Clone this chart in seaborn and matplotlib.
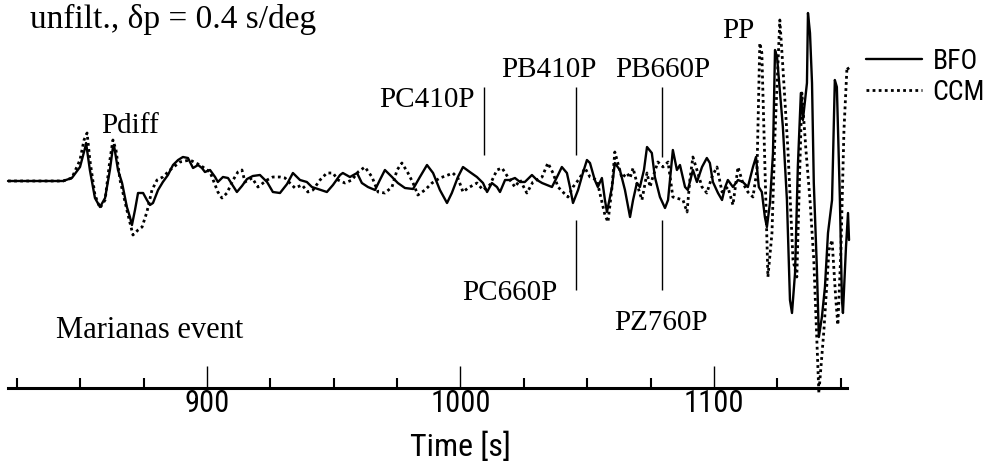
import matplotlib
matplotlib.use("Agg")
import matplotlib.pyplot as plt
import seaborn as sns
import pandas as pd
from matplotlib import font_manager
from matplotlib.ticker import FixedLocator, MultipleLocator

# ---------------- data (time in s, relative amplitude) ----------------
bfo_time = [821.5, 843.2, 846.7, 849.9, 851.9, 852.3, 853.8, 855.8, 857.8, 859.8,
            861.7, 862.9, 863.3, 864.9, 866.5, 868.4, 869.6, 870.4, 871.6, 872.8,
            874.8, 876.3, 877.5, 878.7, 880.7, 882.6, 884.6, 886.6, 888.6, 890.5,
            892.5, 894.5, 896.5, 898.0, 899.2, 901.2, 903.2, 904.3, 906.3, 908.3,
            910.3, 911.8, 913.8, 915.8, 918.1, 920.9, 923.7, 926.0, 928.8, 931.6,
            933.9, 936.7, 939.4, 941.4, 943.8, 947.3, 949.7, 952.5, 953.6, 956.4,
            959.2, 961.1, 963.5, 966.3, 968.2, 970.2, 973.0, 975.3, 978.1, 981.3,
            984.0, 986.8, 989.2, 991.9, 994.7, 996.6, 999.0, 1001.0, 1003.7, 1006.5,
            1008.9, 1010.5, 1012.4, 1014.4, 1015.6, 1017.6, 1019.5, 1021.5, 1023.5, 1025.4,
            1028.2, 1030.2, 1032.2, 1034.1, 1036.1, 1038.1, 1040.0, 1042.0, 1043.2, 1044.4,
            1046.4, 1048.3, 1049.9, 1051.1, 1053.0, 1054.2, 1055.8, 1057.0, 1057.8, 1059.8,
            1060.9, 1062.9, 1064.9, 1066.9, 1068.1, 1069.6, 1070.8, 1072.4, 1073.6, 1075.5,
            1076.7, 1078.7, 1080.7, 1081.9, 1083.8, 1085.4, 1086.6, 1088.6, 1089.7, 1091.7,
            1093.3, 1095.3, 1097.2, 1098.4, 1099.6, 1101.6, 1103.2, 1104.3, 1105.5, 1107.5,
            1109.5, 1111.4, 1113.4, 1115.4, 1116.6, 1117.7, 1118.9, 1120.1, 1120.9, 1122.1,
            1123.3, 1124.1, 1124.9, 1126.0, 1127.2, 1128.8, 1130.0, 1130.8, 1132.0, 1133.1,
            1134.3, 1135.1, 1136.7, 1137.1, 1137.9, 1138.7, 1139.4, 1140.6, 1141.4, 1142.6,
            1143.8, 1145.0, 1146.6, 1147.7, 1148.5, 1149.7, 1150.5, 1150.9, 1152.1, 1152.9,
            1153.3]
bfo_amp = [0, 0, 3, 14, 33, 38, 11, -17, -26, -17,
           11, 34, 36, 11, -2, -26, -36, -44, -29, -12,
           -12, -19, -24, -22, -9, -1, 6, 16, 21, 24,
           23, 13, 16, 13, 9, 11, 4, -1, 4, 3,
           -5, -11, -5, 2, 5, 6, -1, -11, -12, -3,
           8, 1, -1, -6, -8, -11, -4, 6, 8, 4,
           8, -2, -6, -9, 1, 11, 4, -2, -7, -8,
           4, 16, 8, -9, -22, -12, 4, 14, 9, 4,
           -2, -11, -2, -6, -11, 1, 1, 3, -1, -1,
           6, 1, -2, -4, -6, 4, 14, 8, -6, -22,
           -9, 8, 21, 18, 1, -6, 3, -19, -31, -6,
           18, 11, -9, -36, -19, -2, -6, 11, 34, 28,
           4, -16, -27, -19, 31, 11, 16, -6, -9, 11,
           -1, 14, 23, 18, -1, -12, -19, -7, 1, -6,
           1, -1, -6, 14, 24, -6, -11, -36, -46, -22,
           28, 131, 124, 91, 54, -19, -119, -132, -92, 14,
           88, 61, 98, 168, 148, 98, -2, -86, -156, -136,
           -106, -52, -19, 101, 94, -19, -119, -132, -66, -32,
           -59]

ccm_time = [821.5, 843.2, 846.7, 849.9, 851.5, 852.7, 853.8, 855.8, 857.8, 859.8,
            861.7, 862.9, 864.1, 865.7, 868.4, 870.8, 872.8, 874.4, 876.3, 878.3,
            880.3, 882.6, 885.4, 889.3, 893.3, 897.2, 901.2, 904.3, 905.9, 907.9,
            910.3, 912.2, 913.8, 915.0, 917.8, 920.1, 923.7, 926.0, 928.8, 930.8,
            932.7, 934.7, 937.5, 939.8, 941.8, 944.6, 947.3, 949.7, 951.7, 954.4,
            957.2, 959.6, 962.3, 965.1, 967.5, 970.2, 973.0, 975.0, 976.9, 979.3,
            981.3, 983.2, 986.0, 988.8, 991.9, 995.1, 997.0, 999.0, 1001.0, 1003.0,
            1006.5, 1008.9, 1011.6, 1014.4, 1016.4, 1018.7, 1021.5, 1023.5, 1026.2, 1028.6,
            1032.2, 1034.5, 1036.5, 1038.5, 1040.4, 1042.4, 1044.4, 1047.1, 1049.1, 1051.1,
            1053.8, 1055.0, 1057.0, 1058.2, 1059.8, 1060.9, 1062.1, 1063.7, 1065.7, 1066.9,
            1068.1, 1070.0, 1071.6, 1073.6, 1074.8, 1075.9, 1077.9, 1079.9, 1081.9, 1083.8,
            1087.8, 1089.4, 1090.5, 1091.7, 1093.3, 1095.3, 1097.2, 1099.2, 1101.2, 1103.2,
            1105.5, 1107.5, 1109.5, 1111.4, 1113.4, 1115.4, 1117.0, 1118.1, 1118.9, 1120.1,
            1121.3, 1122.9, 1124.1, 1126.0, 1127.2, 1129.2, 1131.2, 1132.7, 1134.7, 1136.3,
            1137.9, 1139.4, 1141.4, 1143.4, 1145.4, 1146.6, 1148.1, 1148.9, 1150.1, 1151.3,
            1152.5, 1153.3]
ccm_amp = [0, 0, 3, 21, 41, 48, 21, -14, -27, -19,
           21, 41, 31, 1, -29, -54, -49, -46, -31, -9,
           1, 4, 11, 19, 21, 16, 9, -11, -17, -12,
           1, 9, 11, -1, 3, -6, 1, 4, 4, 3,
           -2, -7, -4, -11, -9, 1, 8, 8, 1, -2,
           1, 9, 14, 4, -11, -12, -6, 11, 18, 8,
           -2, -14, -9, -2, 3, 6, 8, 3, -11, -7,
           -2, -9, -4, 11, 13, 4, -6, 1, -12, -1,
           4, 18, 8, -6, -11, -16, -6, 3, 13, 4,
           1, -12, -34, -41, -6, 29, 18, 3, 8, 3,
           13, -6, -19, 8, -6, 4, 19, 14, 19, -16,
           -19, -31, 1, 24, 11, -6, -12, 4, 14, -11,
           -6, -24, 14, -2, -11, -16, 11, 138, 128, 14,
           -96, -52, 48, 161, 114, 31, -79, -96, 88, 31,
           -19, -79, -212, -149, -69, -59, -119, -144, -69, 51,
           114, 111]

station_names = ["BFO", "CCM"]
axis_major = [900, 1000, 1100]

phase_labels = ["Pdiff", "PC410P", "PB410P", "PB660P", "PP", "PC660P", "PZ760P"]
phase_label_time = [869.6, 986.8, 1034.9, 1079.9, 1109.5, 1019.5, 1079.1]
phase_label_amp = [48, 74, 104, 104, 143, -119, -149]

marker_time = [1009.3, 1045.6, 1079.5, 1045.6, 1079.5]
marker_top = [94, 94, 94, -39, -39]
marker_bottom = [26, 26, 24, -109, -109]

title_text = "unfilt., δp = 0.4 s/deg"
event_text = "Marianas event"

# ---------------- style ----------------
sns.set_theme(style="white")
avail = {f.name for f in font_manager.fontManager.ttflist}
narrow = next((f for f in ["Liberation Sans Narrow", "DejaVu Sans Condensed",
                           "Roboto Condensed", "Open Sans Condensed"] if f in avail),
              "DejaVu Sans")
serif = "Liberation Serif"
plt.rcParams["font.family"] = [narrow, "DejaVu Sans"]
plt.rcParams["text.color"] = "black"
plt.rcParams["axes.labelcolor"] = "black"
plt.rcParams["xtick.color"] = "black"

fig = plt.figure(figsize=(9.91, 4.69), dpi=100)
ax = fig.add_axes([8 / 991, 81 / 469, 839 / 991, 388 / 469])

df_b = pd.DataFrame({"time": bfo_time, "amp": bfo_amp})
df_c = pd.DataFrame({"time": ccm_time, "amp": ccm_amp})

sns.lineplot(data=df_b, x="time", y="amp", ax=ax, color="black", lw=1.7,
             sort=False, estimator=None, label=station_names[0], clip_on=False)
sns.lineplot(data=df_c, x="time", y="amp", ax=ax, color="black", lw=2.0,
             linestyle=(0, (1, 1.2)), sort=False, estimator=None,
             label=station_names[1], clip_on=False)

ax.set_xlim(821.5, 1152.5)
ax.set_ylim(-207, 181)

for s in ["left", "right", "top"]:
    ax.spines[s].set_visible(False)
ax.spines["bottom"].set_linewidth(2.2)
ax.spines["bottom"].set_color("black")
ax.set_yticks([])
ax.set_ylabel("")

ax.xaxis.set_major_locator(FixedLocator(axis_major))
ax.xaxis.set_minor_locator(MultipleLocator(25))
ax.tick_params(axis="x", which="major", direction="in", length=16, width=1.0,
               labelsize=22, pad=1, bottom=True)
ax.tick_params(axis="x", which="minor", direction="in", length=7.5, width=1.5,
               bottom=True)

ax.set_xlabel("Time [s]", fontsize=23)
ax.xaxis.set_label_coords((1000 - 821.5) / 331, (388 - 447) / 388)
ax.xaxis.label.set_va("center")

# phase markers
ax.vlines(marker_time, marker_bottom, marker_top, color="black", lw=1.0)

for lab, t, a in zip(phase_labels, phase_label_time, phase_label_amp):
    ax.text(t, a, lab, family=serif, fontsize=21, ha="center", va="baseline")

ax.text(830.2, 153, title_text, family=serif, fontsize=24, ha="left", va="baseline")
ax.text(877.5, -157, event_text, family=serif, fontsize=22, ha="center", va="baseline")

if ax.get_legend():
    ax.get_legend().remove()
handles = ax.get_lines()[:2]
fig.legend(handles, station_names, loc="upper left",
           bbox_to_anchor=(866 / 991, 1 - 48 / 469),
           frameon=False, fontsize=20, handlelength=2.0, handletextpad=0.4,
           labelspacing=0.15, borderpad=0, borderaxespad=0)

fig.savefig("out.png", dpi=100)
